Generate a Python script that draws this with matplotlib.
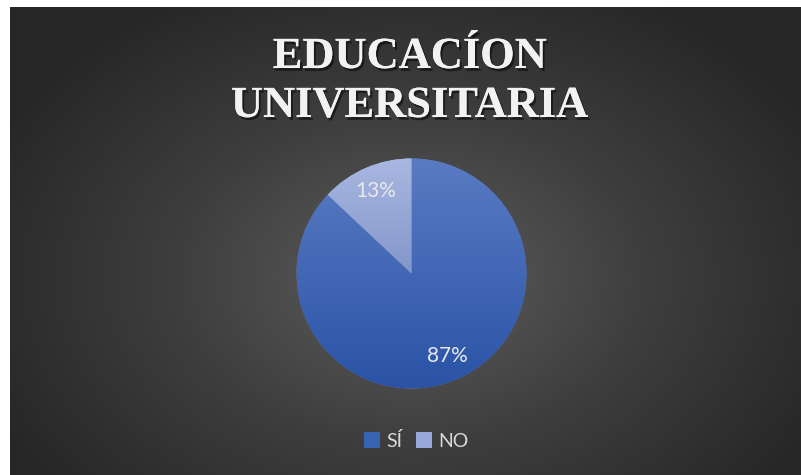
import matplotlib
matplotlib.use("Agg")
import matplotlib.pyplot as plt
import matplotlib.patheffects as pe
import numpy as np
from matplotlib.colors import LinearSegmentedColormap
from matplotlib.lines import Line2D

# data
categories = ["SÍ", "NO"]
shares = [87, 13]
title_lines = ["EDUCACÍON", "UNIVERSITARIA"]
slice_top = ["#5a7bc3", "#a9b8e1"]
slice_bottom = ["#2a53a6", "#5c74b4"]

W, H = 801, 475
fig = plt.figure(figsize=(W / 100, H / 100), dpi=100)
fig.patch.set_facecolor("white")

# radial dark background
bg = fig.add_axes([10 / W, 0, (W - 10) / W, (H - 7) / H])
bg.set_axis_off()
yy, xx = np.mgrid[0:468, 0:791]
d = np.sqrt(((xx - 400) / 470.0) ** 2 + ((yy - 270) / 330.0) ** 2)
d = np.clip(d, 0, 1)
bg_cmap = LinearSegmentedColormap.from_list("bg", ["#5e5e5e", "#3e3e3e", "#262626"])
bg.imshow(d, cmap=bg_cmap, vmin=0, vmax=1, aspect="auto", interpolation="bilinear")

# title
shadow = [pe.withSimplePatchShadow(offset=(1.5, -2), shadow_rgbFace="black", alpha=0.5), pe.Normal()]
for text, base in zip(title_lines, [68, 117]):
    fig.text(410 / W, 1 - base / H, text, ha="center", va="baseline",
             family="Liberation Serif", fontweight="bold", fontsize=32,
             color="#f2f2f2", path_effects=shadow)

# pie
r_px = 115
cx, cy = 411.5, 273.5
side = 2.4 * r_px
ax = fig.add_axes([(cx - side / 2) / W, (H - cy - side / 2) / H, side / W, side / H])
wedges, _, autotexts = ax.pie(shares, startangle=90, counterclock=False,
                              colors=slice_top, autopct="%1.0f%%", pctdistance=0.78,
                              wedgeprops={"linewidth": 0},
                              textprops={"color": "#e8e8e8", "fontsize": 15, "family": "Lato"})
ax.set_xlim(-1.2, 1.2)
ax.set_ylim(-1.2, 1.2)
ax.set_aspect("equal")
ax.set_axis_off()

grad = np.linspace(0, 1, 256).reshape(-1, 1)
for w, top, bot in zip(wedges, slice_top, slice_bottom):
    cm = LinearSegmentedColormap.from_list("g", [top, bot])
    im = ax.imshow(grad, cmap=cm, extent=(-1, 1, -1, 1), aspect="auto", zorder=1.5,
                   interpolation="bilinear")
    im.set_clip_path(w)
for t in autotexts:
    t.set_zorder(3)

# legend
handles = [Line2D([], [], marker="s", linestyle="none", markersize=11,
                  markerfacecolor=c, markeredgewidth=0) for c in ["#3a62b3", "#96a9da"]]
leg = fig.legend(handles, categories, loc="center", bbox_to_anchor=(417 / W, 1 - 441 / H),
                 ncol=2, frameon=False, handlelength=0.7, handletextpad=0.35,
                 columnspacing=0.8, prop={"family": "Lato", "size": 14})
for t in leg.get_texts():
    t.set_color("#d9d9d9")

fig.savefig("out.png", dpi=100)
